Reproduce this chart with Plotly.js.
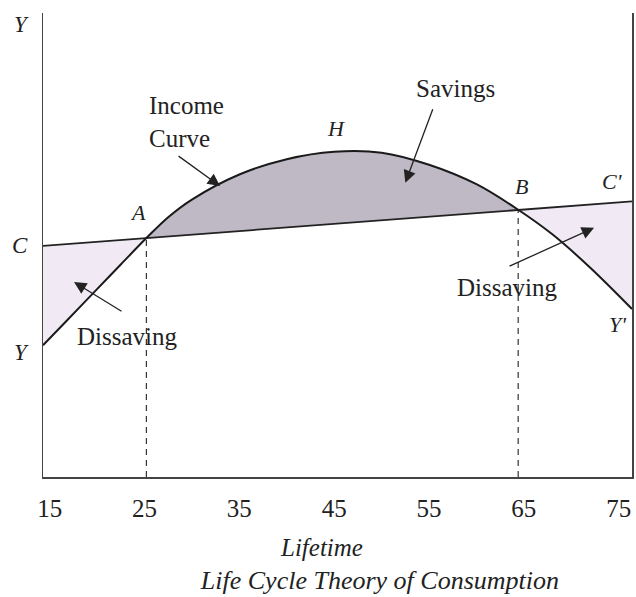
<!DOCTYPE html>
<html>
<head>
<meta charset="utf-8">
<script src="https://cdn.plot.ly/plotly-3.0.1.min.js"></script>
<style>html,body{margin:0;padding:0;background:#fff;}#chart{width:636px;height:597px;}</style>
</head>
<body>
<div id="chart"></div>
<script>
// ---- Data ----
const xRange = [14.3, 76.4];
const tickValues = [15, 25, 35, 45, 55, 65, 75];
const tickLabels = ["15", "25", "35", "45", "55", "65", "75"];

// Income curve (Y ... H ... Y')
const incomeX = [14.3, 17.0, 20.0, 22.5, 25.2, 27.5, 30.0, 35.0, 40.0, 45.0, 50.0, 55.0, 60.0, 64.4, 68.0, 72.0, 76.4];
const incomeY = [28.4, 34.1, 40.5, 45.8, 51.5, 56.0, 59.8, 65.2, 68.5, 70.1, 69.9, 67.3, 63.1, 57.6, 52.3, 45.1, 36.2];

// Consumption line C ... C'
const consX = [14.3, 25.2, 64.4, 76.4];
const consY = [49.8, 51.5, 57.6, 59.4];

// Intersection points A and B (ages)
const pointA = {x: 25.2, y: 51.5};
const pointB = {x: 64.4, y: 57.6};

const serif = "'Liberation Serif', 'Times New Roman', serif";
const savingsColor = "rgba(191,185,197,1)";
const dissavingColor = "rgba(241,234,245,1)";

function sub(xs, ys, lo, hi) {
  const ox = [], oy = [];
  xs.forEach((v, i) => { if (v >= lo - 1e-9 && v <= hi + 1e-9) { ox.push(v); oy.push(ys[i]); } });
  return {x: ox, y: oy};
}

const regions = [
  {lo: xRange[0], hi: pointA.x, color: dissavingColor},
  {lo: pointA.x, hi: pointB.x, color: savingsColor},
  {lo: pointB.x, hi: xRange[1], color: dissavingColor}
];

const traces = [];
regions.forEach(r => {
  const l = sub(consX, consY, r.lo, r.hi);
  const c = sub(incomeX, incomeY, r.lo, r.hi);
  traces.push({x: l.x, y: l.y, mode: 'lines', line: {width: 0, color: 'rgba(0,0,0,0)'}, hoverinfo: 'skip', showlegend: false});
  traces.push({x: c.x, y: c.y, mode: 'lines', line: {width: 0, shape: 'spline', color: 'rgba(0,0,0,0)'},
    fill: 'tonexty', fillcolor: r.color, hoverinfo: 'skip', showlegend: false});
});

// dashed verticals at A and B
[pointA, pointB].forEach(p => {
  traces.push({x: [p.x, p.x], y: [0, p.y], mode: 'lines', line: {color: '#333', width: 1.2, dash: '6px,5px'}, showlegend: false, hoverinfo: 'skip'});
});

// consumption line
traces.push({x: consX, y: consY, mode: 'lines', line: {color: '#222', width: 1.8}, showlegend: false, name: 'Consumption'});
// income curve
traces.push({x: incomeX, y: incomeY, mode: 'lines', line: {color: '#1a1a1a', width: 2, shape: 'spline'}, showlegend: false, name: 'Income Curve'});

function lab(text, x, y, size, opts) {
  return Object.assign({text: text, xref: 'paper', yref: 'paper', x: x, y: y, showarrow: false,
    font: {family: serif, size: size, color: '#222'}, xanchor: 'center', yanchor: 'middle'}, opts || {});
}
function arrow(x, y, ax, ay) {
  return {x: x, y: y, xref: 'x', yref: 'y', ax: ax, ay: ay, text: '', showarrow: true,
    arrowhead: 2, arrowsize: 1.9, arrowwidth: 1.3, arrowcolor: '#222', standoff: 0};
}

const annotations = [
  lab('<i>Y</i>', -0.036, 0.976, 23),
  lab('<i>C</i>', -0.039, 0.500, 23),
  lab('<i>Y</i>', -0.036, 0.269, 23),
  lab('<i>A</i>', 0.161, 0.569, 22),
  lab('<i>H</i>', 0.497, 0.752, 22),
  lab('<i>B</i>', 0.813, 0.627, 22),
  lab("<i>C'</i>", 0.966, 0.636, 22),
  lab("<i>Y'</i>", 0.975, 0.328, 22),
  lab('Income<br>Curve', 0.177, 0.765, 25, {xanchor: 'left', align: 'left'}),
  lab('Savings', 0.701, 0.838, 25),
  lab('Dissaving', 0.143, 0.302, 25),
  lab('Dissaving', 0.789, 0.409, 25),
  lab('<i>Lifetime</i>', 0.472, -0.153, 25),
  arrow(32.97, 62.7, -43, -31),
  arrow(52.5, 63.4, 28, -75),
  arrow(17.57, 42.0, 49, 30),
  arrow(72.4, 53.7, -86, 39)
];

const layout = {
  width: 636, height: 597,
  margin: {l: 43, r: 4, t: 13, b: 120},
  paper_bgcolor: '#fff', plot_bgcolor: '#fff',
  showlegend: false,
  title: {text: '<i>Life Cycle Theory of Consumption</i>', x: 0.572, xanchor: 'center', xref: 'paper',
    y: 0.0285, yref: 'container', yanchor: 'middle', font: {family: serif, size: 26, color: '#222'}},
  xaxis: {range: xRange, tickvals: tickValues, ticktext: tickLabels, showline: true, linecolor: '#444', linewidth: 1.5,
    showgrid: false, zeroline: false, ticks: '', ticklabelstandoff: 8, tickfont: {family: serif, size: 25, color: '#222'}, fixedrange: true},
  yaxis: {range: [0, 100], showline: true, mirror: true, linecolor: '#444', linewidth: 1.5, showgrid: false, zeroline: false,
    showticklabels: false, ticks: '', fixedrange: true},
  annotations: annotations
};

Plotly.newPlot('chart', traces, layout, {staticPlot: true, displayModeBar: false});
</script>
</body>
</html>
